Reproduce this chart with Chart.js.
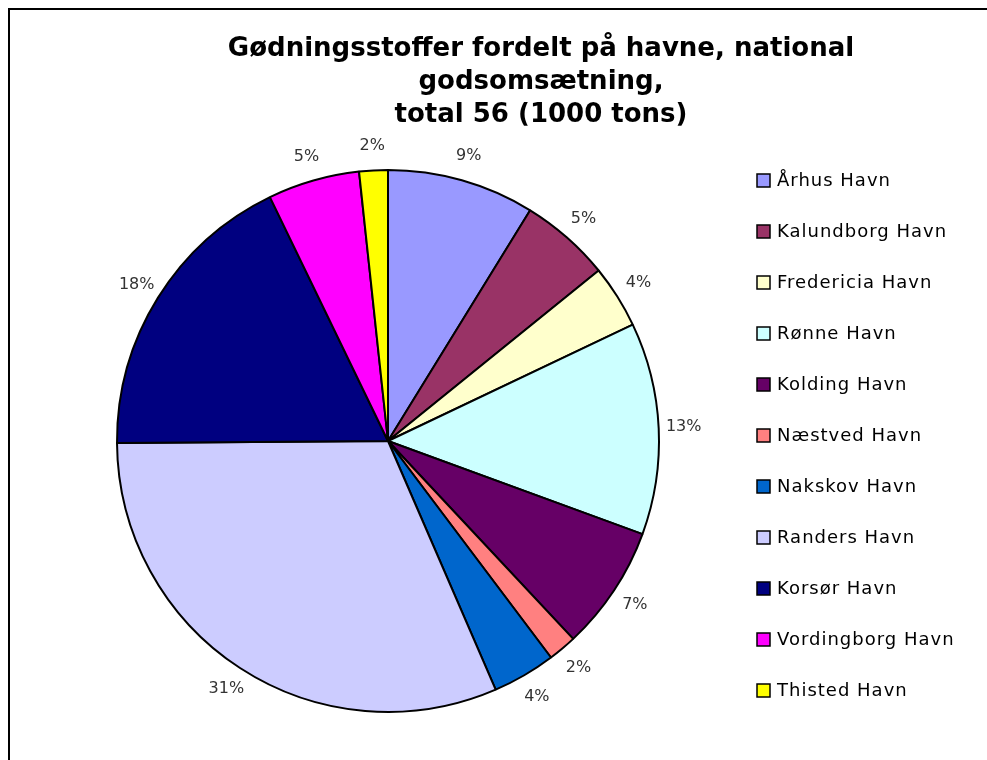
<!DOCTYPE html>
<html>
<head>
<meta charset="utf-8">
<script src="https://cdn.jsdelivr.net/npm/chart.js@4"></script>
<style>
  html, body { margin: 0; padding: 0; background: #fff; }
  #wrap { width: 987px; height: 760px; position: relative; }
</style>
</head>
<body>
<div id="wrap"><canvas id="pie" width="987" height="760"></canvas></div>
<script>
'use strict';

/* ── 데이터 ─────────────────────────────── */
const titleLines = ['Gødningsstoffer fordelt på havne, national', 'godsomsætning,', 'total 56 (1000 tons)'];
const havne = ['Århus Havn', 'Kalundborg Havn', 'Fredericia Havn', 'Rønne Havn', 'Kolding Havn',
               'Næstved Havn', 'Nakskov Havn', 'Randers Havn', 'Korsør Havn', 'Vordingborg Havn', 'Thisted Havn'];
const tons = [4.9, 3.0, 2.1, 7.05, 4.15, 0.95, 2.1, 17.5, 10.0, 3.05, 0.95];   // 1000 tons
const farver = ['#9999FF', '#993366', '#FFFFCC', '#CCFFFF', '#660066',
                '#FF8080', '#0066CC', '#CCCCFF', '#000080', '#FF00FF', '#FFFF00'];

/* ── 플러그인: 프레임, 제목, 라벨, 범례 ─── */
const decor = {
  id: 'decor',
  beforeDraw(chart) {
    const c = chart.ctx;
    c.save();
    c.strokeStyle = '#000';
    c.lineWidth = 2;
    c.beginPath();
    c.moveTo(9, 1000); c.lineTo(9, 9); c.lineTo(1000, 9);
    c.stroke();
    c.restore();
  },
  afterDraw(chart) {
    const c = chart.ctx;
    c.save();
    // 제목
    c.fillStyle = '#000';
    c.font = 'bold 26px "DejaVu Sans"';
    c.textAlign = 'center';
    c.textBaseline = 'alphabetic';
    titleLines.forEach((t, i) => c.fillText(t, 541, 56 + i * 33));

    // 퍼센트 라벨
    const meta = chart.getDatasetMeta(0);
    const total = tons.reduce((a, b) => a + b, 0);
    c.textBaseline = 'middle';
    c.fillStyle = '#333';
    c.font = '16px "DejaVu Sans"';
    meta.data.forEach((arc, i) => {
      const mid = (arc.startAngle + arc.endAngle) / 2;
      const r = arc.outerRadius + 25;
      const x = arc.x + Math.cos(mid) * r;
      const y = arc.y + Math.sin(mid) * r;
      c.fillText(Math.round(tons[i] / total * 100) + '%', x, y);
    });

    // 범례
    c.textAlign = 'left';
    c.font = '18px "DejaVu Sans"';
    if ('letterSpacing' in c) c.letterSpacing = '1px';
    havne.forEach((h, i) => {
      const y = 181 + i * 51;
      c.fillStyle = farver[i];
      c.fillRect(757, y - 7, 13, 13);
      c.strokeStyle = '#000';
      c.lineWidth = 1.5;
      c.strokeRect(757, y - 7, 13, 13);
      c.fillStyle = '#000';
      c.fillText(h, 777, y);
    });
    c.restore();
  }
};

function init() {
  new Chart(document.getElementById('pie').getContext('2d'), {
    type: 'pie',
    data: {
      labels: havne,
      datasets: [{
        data: tons,
        backgroundColor: farver,
        borderColor: '#000',
        borderWidth: 2,
      }],
    },
    options: {
      responsive: false,
      animation: false,
      layout: { padding: { left: 116, right: 327, top: 169, bottom: 47 } },
      plugins: { legend: { display: false }, title: { display: false }, tooltip: { enabled: false } },
    },
    plugins: [decor],
  });
}

document.addEventListener('DOMContentLoaded', init);
</script>
</body>
</html>
